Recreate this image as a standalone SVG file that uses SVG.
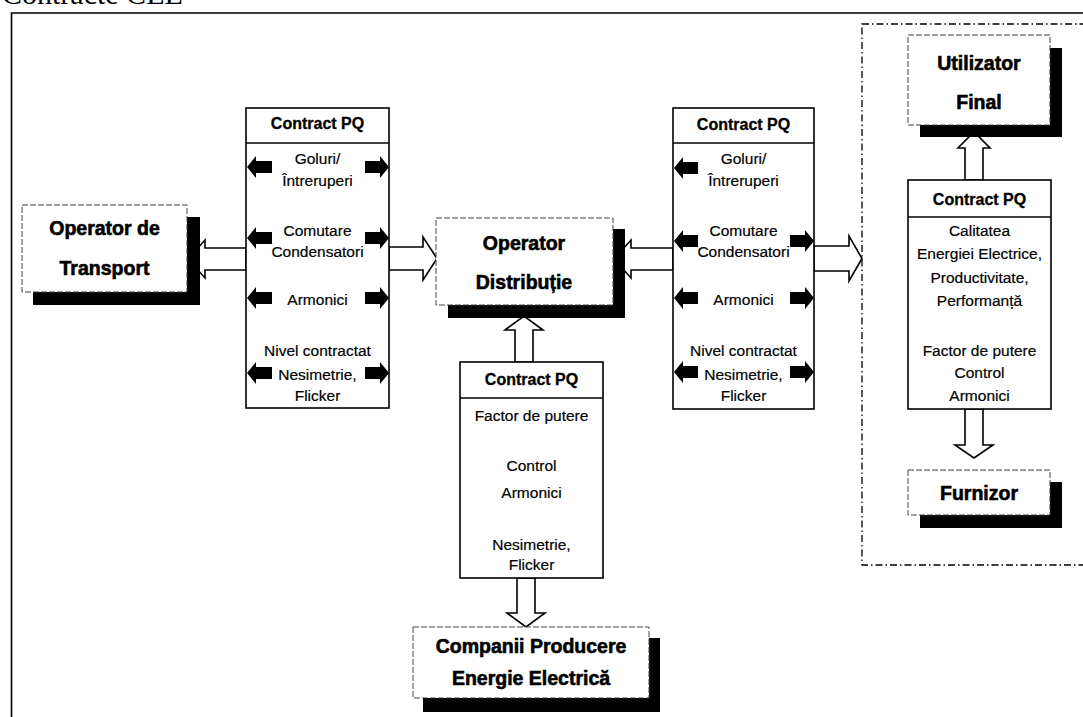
<svg xmlns="http://www.w3.org/2000/svg" width="1083" height="717" viewBox="0 0 1083 717">
  <defs>
    <style>
      .frame { fill: none; stroke: #000; stroke-width: 1.6; }
      .region { fill: none; stroke: #000; stroke-width: 1.3; stroke-dasharray: 7 3 1.5 3; }
      .shadow { fill: #000; }
      .nodebox { fill: #fff; stroke: #444; stroke-width: 1; stroke-dasharray: 6 2; }
      .pq { fill: #fff; stroke: #000; stroke-width: 1.6; }
      .sep { stroke: #000; stroke-width: 1.4; }
      .big { font-family: "Liberation Sans", Arial, sans-serif; font-weight: bold; font-size: 19.5px; text-anchor: middle; fill: #000; stroke: #000; stroke-width: 0.6; }
      .hdr { font-family: "Liberation Sans", Arial, sans-serif; font-weight: bold; font-size: 16px; text-anchor: middle; fill: #000; stroke: #000; stroke-width: 0.3; }
      .txt { font-family: "Liberation Sans", Arial, sans-serif; font-size: 15.5px; text-anchor: middle; fill: #000; stroke: #000; stroke-width: 0.2; }
      .hollow { fill: #fff; stroke: #000; stroke-width: 1.6; stroke-linejoin: miter; }
      .solid { fill: #000; }
    </style>
  </defs>

  <!-- heading, cut by the top edge -->
  <text x="2" y="4" font-family="'Liberation Serif', 'Times New Roman', serif" font-size="30" fill="#000">Contracte CEE</text>

  <!-- outer frame -->
  <path class="frame" d="M11.5,717 V13 H1083"/>

  <!-- end-user area -->
  <rect class="region" x="862" y="24" width="240" height="541"/>

  <!-- connectors -->
  <g id="connectors">
    <!-- Transport <-> left contract -->
    <polygon class="hollow" points="246,248 205,248 205,240 188,259 205,278 205,270 246,270"/>
    <!-- left contract -> Distributie -->
    <polygon class="hollow" points="389,247 423,247 423,237 437,258.5 423,280 423,270 389,270"/>
    <!-- right contract -> Distributie -->
    <polygon class="hollow" points="673,248 631,248 631,240 614,259 631,278 631,270 673,270"/>
    <!-- right contract -> end-user area -->
    <polygon class="hollow" points="814,246 849,246 849,236 862,258.5 849,281 849,271 814,271"/>
    <!-- generation contract -> Distributie -->
    <polygon class="hollow" points="515,362 515,330 505,330 524,316 543,330 533,330 533,362"/>
    <!-- generation contract -> Companii -->
    <polygon class="hollow" points="517,578 517,613 507,613 526,627 545,613 535,613 535,578"/>
    <!-- end-user contract -> Utilizator -->
    <polygon class="hollow" points="965,180 965,148 958,148 974,132 990,148 983,148 983,180"/>
    <!-- end-user contract -> Furnizor -->
    <polygon class="hollow" points="965,409 965,445 955,445 974,458 993,445 983,445 983,409"/>
  </g>

  <!-- Operator de Transport -->
  <g id="operator-transport">
    <rect class="shadow" x="33" y="217" width="167" height="88"/>
    <rect class="nodebox" x="22" y="205" width="165" height="87"/>
    <text class="big" x="104.5" y="235">Operator de</text>
    <text class="big" x="104.5" y="275">Transport</text>
  </g>

  <!-- Operator Distributie -->
  <g id="operator-distributie">
    <rect class="shadow" x="448" y="229" width="177" height="89"/>
    <rect class="nodebox" x="436" y="218" width="177" height="87"/>
    <text class="big" x="524" y="250">Operator</text>
    <text class="big" x="524" y="289">Distribuție</text>
  </g>

  <!-- Utilizator Final -->
  <g id="utilizator-final">
    <rect class="shadow" x="920" y="48" width="142" height="89"/>
    <rect class="nodebox" x="908" y="35" width="142" height="90"/>
    <text class="big" x="979" y="70">Utilizator</text>
    <text class="big" x="979" y="109">Final</text>
  </g>

  <!-- Furnizor -->
  <g id="furnizor">
    <rect class="shadow" x="920" y="482" width="142" height="46"/>
    <rect class="nodebox" x="908" y="470" width="142" height="45"/>
    <text class="big" x="979" y="500">Furnizor</text>
  </g>

  <!-- Companii Producere Energie Electrica -->
  <g id="companii-producere">
    <rect class="shadow" x="423" y="638" width="237" height="74"/>
    <rect class="nodebox" x="413" y="627" width="236" height="71"/>
    <text class="big" x="531" y="653">Companii Producere</text>
    <text class="big" x="531" y="685">Energie Electrică</text>
  </g>

  <!-- Contract PQ: transport / distributie -->
  <g id="contract-pq-transport">
    <rect class="pq" x="246" y="108" width="143" height="300"/>
    <line class="sep" x1="246" y1="143" x2="389" y2="143"/>
    <text class="hdr" x="317.5" y="129">Contract PQ</text>
    <text class="txt" x="317.5" y="164">Goluri/</text>
    <text class="txt" x="317.5" y="186">Întreruperi</text>
    <text class="txt" x="317.5" y="236">Comutare</text>
    <text class="txt" x="317.5" y="257">Condensatori</text>
    <text class="txt" x="317.5" y="305">Armonici</text>
    <text class="txt" x="317.5" y="356">Nivel contractat</text>
    <text class="txt" x="317.5" y="380">Nesimetrie,</text>
    <text class="txt" x="317.5" y="401">Flicker</text>
    <g class="solid">
      <polygon points="247,167 256,156 256,161 272,161 272,173 256,173 256,178"/>
      <polygon points="389,167 380,156 380,161 365,161 365,173 380,173 380,178"/>
      <polygon points="247,238 256,227 256,232 272,232 272,244 256,244 256,249"/>
      <polygon points="389,238 380,227 380,232 365,232 365,244 380,244 380,249"/>
      <polygon points="247,298 256,287 256,292 272,292 272,304 256,304 256,309"/>
      <polygon points="389,298 380,287 380,292 365,292 365,304 380,304 380,309"/>
      <polygon points="247,373 256,362 256,367 272,367 272,379 256,379 256,384"/>
      <polygon points="389,373 380,362 380,367 365,367 365,379 380,379 380,384"/>
    </g>
  </g>

  <!-- Contract PQ: distributie / utilizatori -->
  <g id="contract-pq-distributie">
    <rect class="pq" x="673" y="108" width="141" height="301"/>
    <line class="sep" x1="673" y1="143" x2="814" y2="143"/>
    <text class="hdr" x="743.5" y="130">Contract PQ</text>
    <text class="txt" x="743.5" y="164">Goluri/</text>
    <text class="txt" x="743.5" y="186">Întreruperi</text>
    <text class="txt" x="743.5" y="236">Comutare</text>
    <text class="txt" x="743.5" y="257">Condensatori</text>
    <text class="txt" x="743.5" y="305">Armonici</text>
    <text class="txt" x="743.5" y="356">Nivel contractat</text>
    <text class="txt" x="743.5" y="380">Nesimetrie,</text>
    <text class="txt" x="743.5" y="401">Flicker</text>
    <g class="solid">
      <polygon points="674,168 683,157 683,162 698,162 698,174 683,174 683,179"/>
      <polygon points="674,241 683,230 683,235 698,235 698,247 683,247 683,252"/>
      <polygon points="814,241 805,230 805,235 790,235 790,247 805,247 805,252"/>
      <polygon points="674,298 683,287 683,292 698,292 698,304 683,304 683,309"/>
      <polygon points="814,298 805,287 805,292 790,292 790,304 805,304 805,309"/>
      <polygon points="674,372 683,361 683,366 698,366 698,378 683,378 683,383"/>
      <polygon points="814,372 805,361 805,366 790,366 790,378 805,378 805,383"/>
    </g>
  </g>

  <!-- Contract PQ: distributie / producatori -->
  <g id="contract-pq-producere">
    <rect class="pq" x="460" y="362" width="143" height="216"/>
    <line class="sep" x1="460" y1="398" x2="603" y2="398"/>
    <text class="hdr" x="531.5" y="385">Contract PQ</text>
    <text class="txt" x="531.5" y="421">Factor de putere</text>
    <text class="txt" x="531.5" y="471">Control</text>
    <text class="txt" x="531.5" y="498">Armonici</text>
    <text class="txt" x="531.5" y="550">Nesimetrie,</text>
    <text class="txt" x="531.5" y="570">Flicker</text>
  </g>

  <!-- Contract PQ: utilizator final / furnizor -->
  <g id="contract-pq-utilizator">
    <rect class="pq" x="908" y="180" width="143" height="229"/>
    <line class="sep" x1="908" y1="217" x2="1051" y2="217"/>
    <text class="hdr" x="979.5" y="205">Contract PQ</text>
    <text class="txt" x="979.5" y="236">Calitatea</text>
    <text class="txt" x="979.5" y="259">Energiei Electrice,</text>
    <text class="txt" x="979.5" y="283">Productivitate,</text>
    <text class="txt" x="979.5" y="306">Performanță</text>
    <text class="txt" x="979.5" y="356">Factor de putere</text>
    <text class="txt" x="979.5" y="378">Control</text>
    <text class="txt" x="979.5" y="401">Armonici</text>
  </g>
</svg>
